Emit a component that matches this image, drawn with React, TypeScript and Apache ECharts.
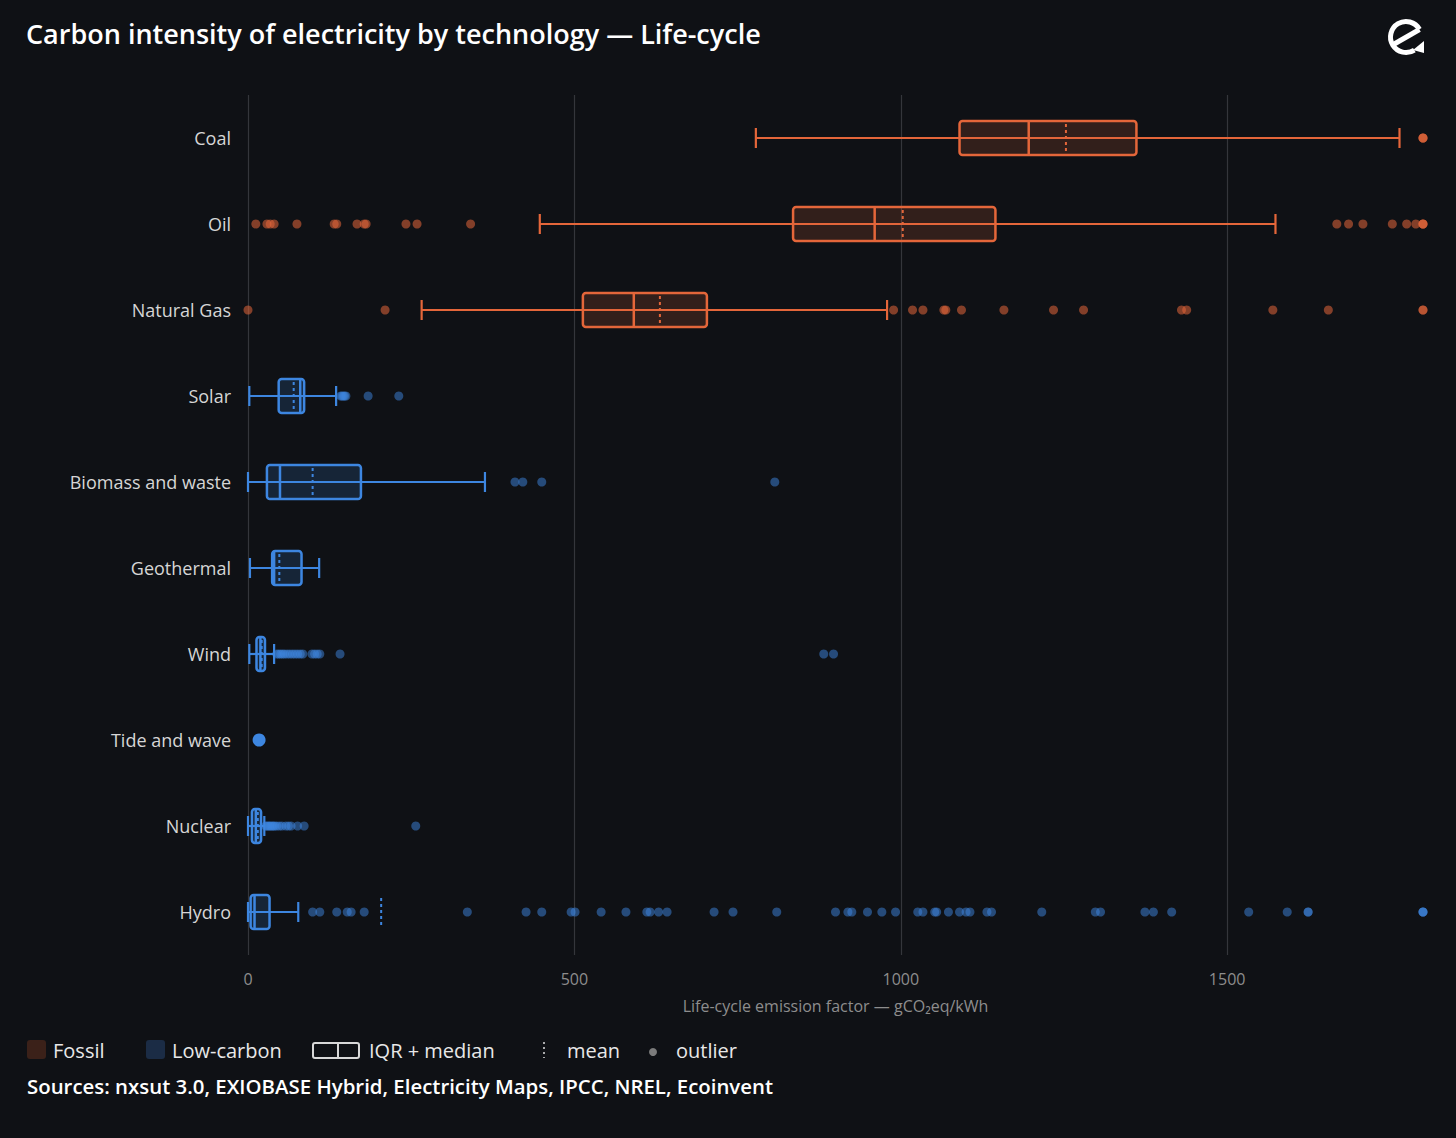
import React, { useEffect, useRef } from "react";
import * as echarts from "echarts";

const categories = ["Coal", "Oil", "Natural Gas", "Solar", "Biomass and waste", "Geothermal", "Wind", "Tide and wave", "Nuclear", "Hydro"];
const groups = ["fossil", "fossil", "fossil", "low", "low", "low", "low", "low", "low", "low"];

const boxMin = [778, 447, 266, 2, 0, 3, 2, null, 0, 0];
const boxQ1 = [1090, 835, 513, 47, 29, 37, 13, null, 6, 4];
const boxMedian = [1196, 960, 591, 80, 49, 40, 19, null, 12, 10];
const boxQ3 = [1361, 1145, 703, 86, 173, 82, 26, null, 20, 33];
const boxMax = [1764, 1574, 979, 135, 363, 109, 40, null, 25, 77];
const boxMean = [1253, 1003, 631, 70, 99, 48, 21, null, 15, 204];

const singleObs = [{ cat: "Tide and wave", value: 17 }];

const coalOutliers = [1800, 1800, 1800];
const oilOutliers = [12, 29, 34, 40, 75, 132, 136, 167, 178, 181, 242, 259, 341, 1668, 1686, 1708, 1753, 1775, 1789, 1800, 1800, 1800];
const gasOutliers = [0, 210, 989, 1018, 1034, 1066, 1069, 1093, 1158, 1234, 1280, 1430, 1438, 1570, 1655, 1800, 1800];
const solarOutliers = [142, 144, 146, 148, 150, 184, 231];
const biomassOutliers = [409, 421, 450, 807];
const geoOutliers: number[] = [];
const windOutliers = [44, 47, 50, 53, 56, 60, 64, 68, 72, 76, 80, 84, 98, 102, 106, 110, 141, 882, 897];
const tideOutliers: number[] = [];
const nuclearOutliers = [27, 29, 31, 33, 35, 37, 39, 41, 44, 48, 52, 58, 62, 66, 76, 86, 257];
const hydroOutliers = [99, 110, 136, 152, 158, 178, 336, 426, 450, 495, 501, 541, 579, 611, 616, 629, 642, 714, 743, 810, 900, 919, 925, 949, 971, 992, 1026, 1034, 1052, 1055, 1073, 1090, 1100, 1106, 1132, 1139, 1216, 1298, 1306, 1374, 1387, 1415, 1533, 1592, 1624, 1624, 1800, 1800, 1800];
const outliersByCat = [coalOutliers, oilOutliers, gasOutliers, solarOutliers, biomassOutliers, geoOutliers, windOutliers, tideOutliers, nuclearOutliers, hydroOutliers];

const xTicks = [0, 500, 1000, 1500];
const xMax = 1800;

const BG = "#0f1115";
const ORANGE = "#e4663a";
const BLUE = "#3d86e0";
const FONT = "'Open Sans', 'Noto Sans', sans-serif";

export default function App() {
  const ref = useRef<HTMLDivElement>(null);
  useEffect(() => {
    document.body.style.margin = "0";
    document.body.style.background = BG;
    const chart = echarts.init(ref.current!, null, { renderer: "svg" });

    const boxData: any[] = [];
    categories.forEach((c, i) => {
      if (boxMin[i] == null) return;
      boxData.push([i, boxMin[i], boxQ1[i], boxMedian[i], boxQ3[i], boxMax[i], boxMean[i]]);
    });
    const fossilOut: any[] = [];
    const lowOut: any[] = [];
    outliersByCat.forEach((arr, i) => {
      arr.forEach((v) => (groups[i] === "fossil" ? fossilOut : lowOut).push([v, i]));
    });

    const option: any = {
      animation: false,
      backgroundColor: BG,
      title: {
        text: "Carbon intensity of electricity by technology — Life-cycle",
        left: 26,
        top: 20,
        padding: 0,
        textStyle: { color: "#ffffff", fontSize: 27, fontWeight: 600, fontFamily: FONT },
      },
      grid: { left: 248, right: 33, top: 95, height: 860 },
      xAxis: {
        type: "value",
        min: 0,
        max: xMax,
        interval: 500,
        name: "Life-cycle emission factor — gCO₂eq/kWh",
        nameLocation: "middle",
        nameGap: 43,
        nameTextStyle: { color: "#8d8d8d", fontSize: 16, fontFamily: FONT },
        axisLine: { show: false },
        axisTick: { show: false },
        axisLabel: {
          color: "#8d8d8d",
          fontSize: 16,
          fontFamily: FONT,
          margin: 16,
          showMaxLabel: false,
          formatter: (v: number) => (xTicks.indexOf(v) >= 0 ? String(v) : ""),
        },
        splitLine: { show: true, showMaxLine: false, lineStyle: { color: "#34363b", width: 1.2 } },
      },
      yAxis: {
        type: "category",
        data: categories,
        inverse: true,
        axisLine: { show: false },
        axisTick: { show: false },
        splitLine: { show: false },
        axisLabel: { color: "#d6d6d6", fontSize: 18, fontFamily: FONT, margin: 17 },
      },
      series: [
        {
          type: "scatter",
          name: "fossil outliers",
          data: fossilOut,
          symbolSize: 9,
          itemStyle: { color: ORANGE, opacity: 0.55 },
          z: 2,
        },
        {
          type: "scatter",
          name: "low outliers",
          data: lowOut,
          symbolSize: 9,
          itemStyle: { color: BLUE, opacity: 0.5 },
          z: 2,
        },
        {
          type: "scatter",
          name: "single",
          data: singleObs.map((d) => [d.value, categories.indexOf(d.cat)]),
          symbolSize: 13,
          itemStyle: { color: BLUE, opacity: 1 },
          z: 3,
        },
        {
          type: "custom",
          name: "boxes",
          data: boxData,
          encode: { x: [1, 2, 3, 4, 5, 6], y: 0 },
          z: 4,
          renderItem: (params: any, api: any) => {
            const i = api.value(0);
            const col = groups[i] === "fossil" ? ORANGE : BLUE;
            const fill = groups[i] === "fossil" ? "rgba(228,102,58,0.17)" : "rgba(61,134,224,0.17)";
            const y = api.coord([0, i])[1];
            const px = (k: number) => api.coord([api.value(k), i])[0];
            const xmin = px(1), xq1 = px(2), xmed = px(3), xq3 = px(4), xmax = px(5), xmean = px(6);
            const h = 34;
            const cap = 10;
            return {
              type: "group",
              children: [
                { type: "line", shape: { x1: xmin, y1: y, x2: xmax, y2: y }, style: { stroke: col, lineWidth: 2.2 } },
                { type: "line", shape: { x1: xmin, y1: y - cap, x2: xmin, y2: y + cap }, style: { stroke: col, lineWidth: 2.2 } },
                { type: "line", shape: { x1: xmax, y1: y - cap, x2: xmax, y2: y + cap }, style: { stroke: col, lineWidth: 2.2 } },
                { type: "rect", shape: { x: xq1, y: y - h / 2, width: xq3 - xq1, height: h, r: 3 }, style: { fill, stroke: col, lineWidth: 2.5 } },
                { type: "line", shape: { x1: xmed, y1: y - h / 2, x2: xmed, y2: y + h / 2 }, style: { stroke: col, lineWidth: 2.5 } },
                { type: "line", shape: { x1: xmean, y1: y - h / 2 + 3, x2: xmean, y2: y + h / 2 - 3 }, style: { stroke: col, lineWidth: 2, lineDash: [3, 3] } },
              ],
            };
          },
        },
      ],
      graphic: [
        {
          type: "group",
          children: [
            { type: "arc", shape: { cx: 1406, cy: 37, r: 15.5, startAngle: 1.0, endAngle: 5.76, clockwise: true }, style: { stroke: "#fff", lineWidth: 5, fill: "none" } },
            { type: "line", shape: { x1: 1392.5, y1: 45, x2: 1419.5, y2: 29.5 }, style: { stroke: "#fff", lineWidth: 5 } },
            { type: "polygon", shape: { points: [[1424, 41], [1424, 53], [1413, 50]] }, style: { fill: "#fff" } },
          ],
        },
        { type: "rect", shape: { x: 27, y: 1040, width: 19, height: 19, r: 3 }, style: { fill: "#3b2119" } },
        { type: "text", x: 53, y: 1050, style: { text: "Fossil", fill: "#e8e8e8", fontSize: 20, fontFamily: FONT, verticalAlign: "middle" } },
        { type: "rect", shape: { x: 146, y: 1040, width: 19, height: 19, r: 3 }, style: { fill: "#1b2c45" } },
        { type: "text", x: 172, y: 1050, style: { text: "Low-carbon", fill: "#e8e8e8", fontSize: 20, fontFamily: FONT, verticalAlign: "middle" } },
        { type: "rect", shape: { x: 313, y: 1043, width: 46, height: 15, r: 2 }, style: { fill: "none", stroke: "#d8d8d8", lineWidth: 2 } },
        { type: "line", shape: { x1: 338, y1: 1043, x2: 338, y2: 1058 }, style: { stroke: "#d8d8d8", lineWidth: 2 } },
        { type: "text", x: 369, y: 1050, style: { text: "IQR + median", fill: "#e8e8e8", fontSize: 20, fontFamily: FONT, verticalAlign: "middle" } },
        { type: "line", shape: { x1: 544, y1: 1042, x2: 544, y2: 1058 }, style: { stroke: "#d0d0d0", lineWidth: 1.6, lineDash: [2, 3] } },
        { type: "text", x: 567, y: 1050, style: { text: "mean", fill: "#e8e8e8", fontSize: 20, fontFamily: FONT, verticalAlign: "middle" } },
        { type: "circle", shape: { cx: 653, cy: 1052, r: 4 }, style: { fill: "#7c7c7c" } },
        { type: "text", x: 676, y: 1050, style: { text: "outlier", fill: "#e8e8e8", fontSize: 20, fontFamily: FONT, verticalAlign: "middle" } },
        { type: "text", x: 27, y: 1086, style: { text: "Sources: nxsut 3.0, EXIOBASE Hybrid, Electricity Maps, IPCC, NREL, Ecoinvent", fill: "#ffffff", fontSize: 20.4, fontWeight: 600, fontFamily: FONT, verticalAlign: "middle" } },
      ],
    };
    chart.setOption(option);
    return () => chart.dispose();
  }, []);
  return <div ref={ref} style={{ width: 1456, height: 1138, background: BG }} />;
}
